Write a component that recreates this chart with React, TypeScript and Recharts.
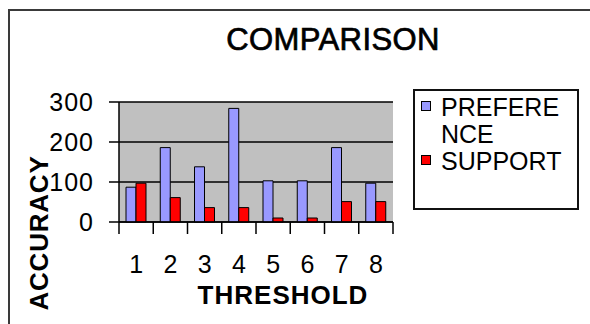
import React from 'react';
import { BarChart, Bar, XAxis, YAxis, CartesianGrid, Legend } from 'recharts';

const categories = ['1', '2', '3', '4', '5', '6', '7', '8'];
const preference = [87, 186, 138, 284, 103, 103, 186, 97];
const support = [97, 61, 36, 36, 10, 10, 51, 51];
const yTicks = [0, 100, 200, 300];

const seriesNames = { preference: 'PREFERENCE', support: 'SUPPORT' };
const titleText = 'COMPARISON';
const xTitle = 'THRESHOLD';
const yTitle = 'ACCURACY';

const data = categories.map((c, i) => ({ cat: c, preference: preference[i], support: support[i] }));

const FONT = '"Liberation Sans", Arial, sans-serif';
const X_TICK_SIZE = 12;
const X_TICK_MARGIN = 21;

const XTick = (props: any) => {
  const { x, y, payload, index } = props;
  const off = payload.offset || 0;
  const axisY = y - X_TICK_SIZE - X_TICK_MARGIN;
  const last = index === categories.length - 1;
  return (
    <g>
      <line x1={x - off} y1={axisY} x2={x - off} y2={axisY + X_TICK_SIZE} stroke="#000" strokeWidth={1.5} />
      {last && (
        <line x1={x + off} y1={axisY} x2={x + off} y2={axisY + X_TICK_SIZE} stroke="#000" strokeWidth={1.5} />
      )}
      <text x={x} y={y} dy="0.71em" textAnchor="middle" fontSize={25} fill="#000" fontFamily={FONT}>
        {payload.value}
      </text>
    </g>
  );
};

const XLabel = (props: any) => {
  const vb = props.viewBox || { x: 0, y: 0, width: 0, height: 0 };
  return (
    <text
      x={vb.x + vb.width / 2 + 27}
      y={vb.y + 82}
      textAnchor="middle"
      fontSize={26}
      fontWeight="bold"
      letterSpacing={1}
      fill="#000"
      fontFamily={FONT}
    >
      {xTitle}
    </text>
  );
};

const YLabel = (props: any) => {
  const vb = props.viewBox || { x: 0, y: 0, width: 0, height: 0 };
  const cx = vb.x + 9;
  const cy = vb.y + vb.height + 11;
  return (
    <text
      x={cx}
      y={cy}
      transform={`rotate(-90, ${cx}, ${cy})`}
      textAnchor="middle"
      fontSize={26}
      fontWeight="bold"
      letterSpacing={0.8}
      fill="#000"
      fontFamily={FONT}
    >
      {yTitle}
    </text>
  );
};

const LegendContent = (props: any) => {
  const { payload } = props;
  return (
    <div
      style={{
        border: '2px solid #111',
        boxSizing: 'border-box',
        width: 166,
        height: 121,
        paddingTop: 3,
        paddingLeft: 6,
        background: '#fff',
        fontFamily: FONT,
        fontSize: 25,
        lineHeight: '27px',
        color: '#000',
        textAlign: 'left',
      }}
    >
      {(payload || []).map((e: any) => (
        <div key={e.value} style={{ display: 'flex', alignItems: 'flex-start' }}>
          <div
            style={{
              width: 10,
              height: 10,
              border: '1px solid #000',
              boxSizing: 'border-box',
              background: e.color,
              marginTop: 7,
              flex: 'none',
            }}
          />
          <div style={{ width: 125, marginLeft: 10, wordBreak: 'break-all' }}>{e.value}</div>
        </div>
      ))}
    </div>
  );
};

export default function App() {
  return (
    <div style={{ position: 'fixed', left: 0, top: 0, width: 590, height: 324, background: '#fff', overflow: 'hidden' }}>
      <div
        style={{
          position: 'absolute',
          left: 8,
          top: 9,
          width: 590,
          height: 324,
          borderTop: '2px solid #3a3a3a',
          borderLeft: '2px solid #3a3a3a',
        }}
      />
      <div
        style={{
          position: 'absolute',
          left: 183,
          top: 24,
          width: 300,
          textAlign: 'center',
          fontFamily: FONT,
          fontSize: 31,
          lineHeight: '31px',
          letterSpacing: 0.4,
          color: '#000',
          WebkitTextStroke: '0.7px #000',
        }}
      >
        {titleText}
      </div>
      <div style={{ position: 'absolute', left: 0, top: 0 }}>
        <BarChart
          width={590}
          height={324}
          data={data}
          margin={{ top: 102, right: 197, bottom: 72, left: 39 }}
          barGap={0}
          style={{ fontFamily: FONT }}
        >
          <CartesianGrid vertical={false} horizontal={true} stroke="#000" strokeWidth={1.5} fill="#c0c0c0" fillOpacity={1} />
          <XAxis
            dataKey="cat"
            height={30}
            tickLine={false}
            tickSize={X_TICK_SIZE}
            tickMargin={X_TICK_MARGIN}
            axisLine={{ stroke: '#000', strokeWidth: 1.5 }}
            tick={<XTick />}
            interval={0}
            label={(p: any) => <XLabel {...p} />}
          />
          <YAxis
            width={80}
            domain={[0, 300]}
            ticks={yTicks}
            tickSize={10}
            tickMargin={15}
            tickLine={{ stroke: '#000', strokeWidth: 1.5 }}
            axisLine={{ stroke: '#000', strokeWidth: 1.5 }}
            tick={{ fontSize: 25, fill: '#000', fontFamily: FONT, letterSpacing: 1 }}
            interval={0}
            label={(p: any) => <YLabel {...p} />}
          />
          <Legend
            layout="vertical"
            align="center"
            verticalAlign="middle"
            content={<LegendContent />}
            wrapperStyle={{ left: 413, top: 89, width: 166, height: 121 }}
          />
          <Bar
            dataKey="preference"
            name={seriesNames.preference}
            fill="#9999ff"
            stroke="#000"
            strokeWidth={1}
            barSize={10}
            isAnimationActive={false}
          />
          <Bar
            dataKey="support"
            name={seriesNames.support}
            fill="#ff0000"
            stroke="#000"
            strokeWidth={1}
            barSize={10}
            isAnimationActive={false}
          />
        </BarChart>
      </div>
    </div>
  );
}
